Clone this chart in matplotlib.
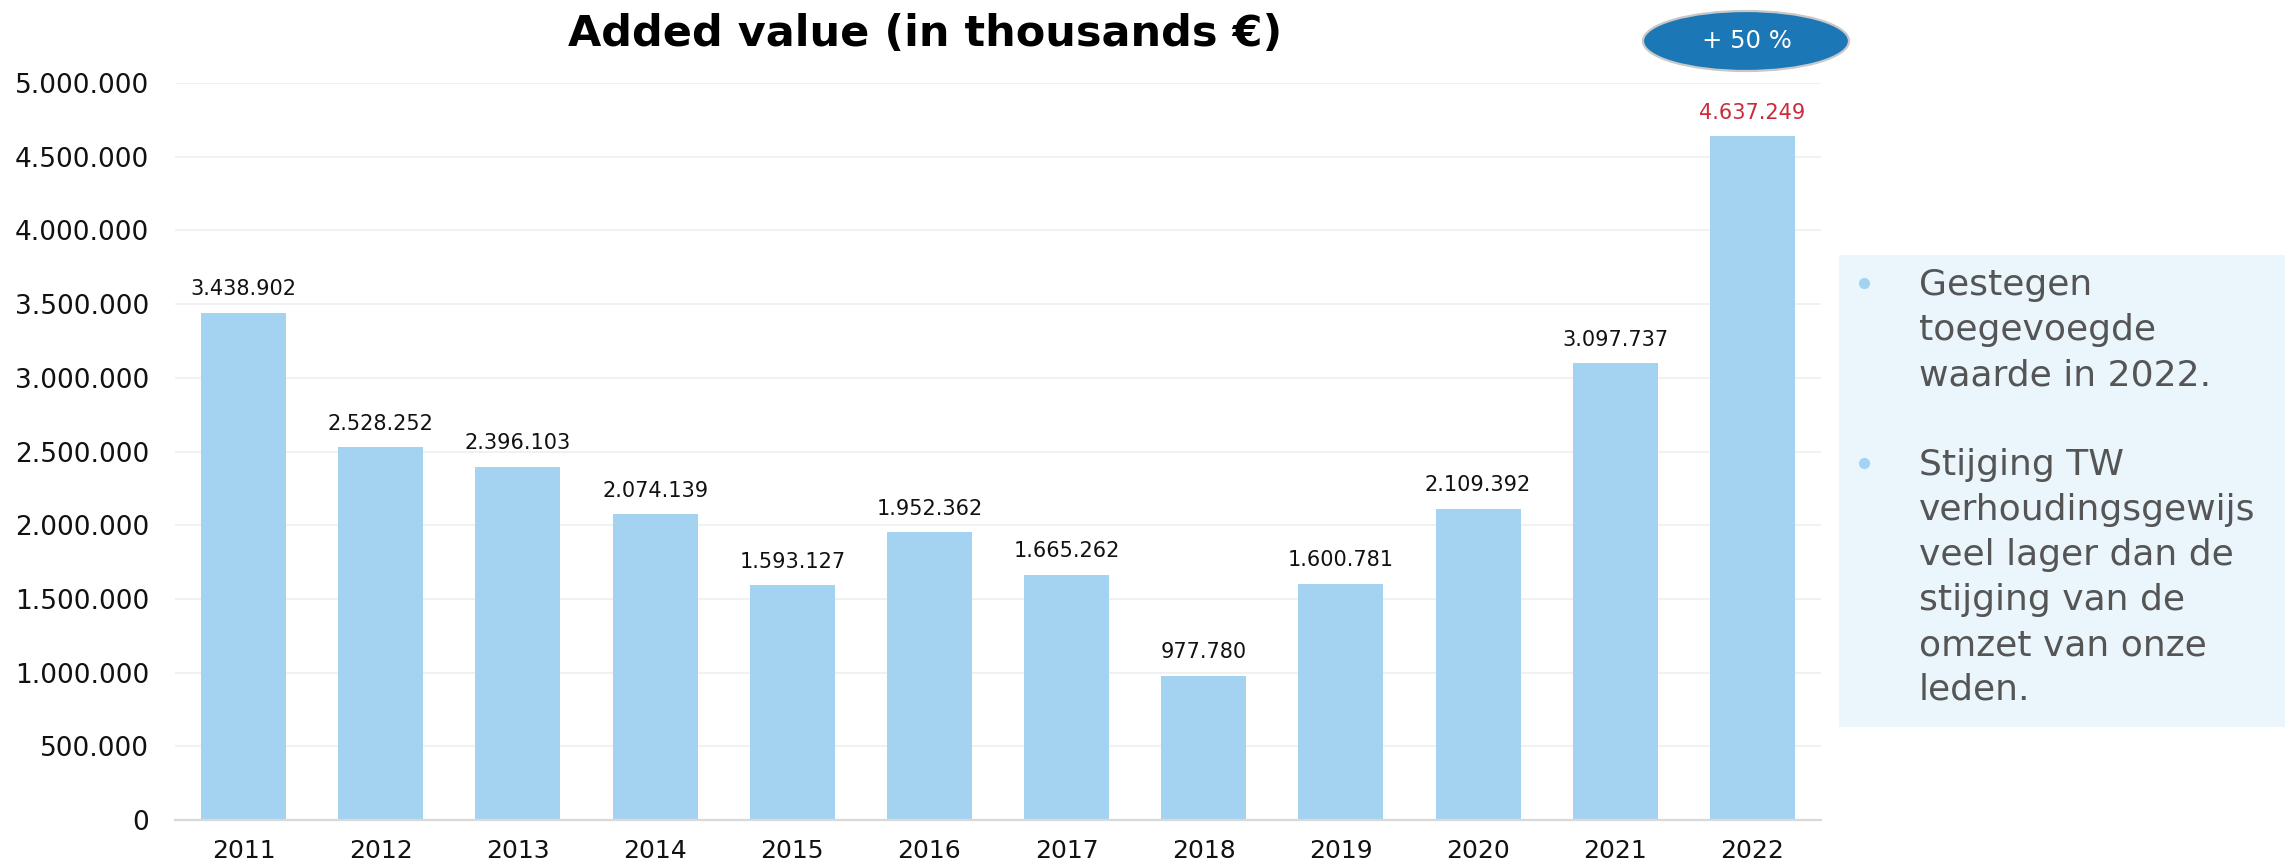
import matplotlib
matplotlib.use("Agg")
import matplotlib.pyplot as plt
from matplotlib.patches import Ellipse, Rectangle
from matplotlib.lines import Line2D
from matplotlib.ticker import FuncFormatter

# ---- data ----
years = ["2011", "2012", "2013", "2014", "2015", "2016",
         "2017", "2018", "2019", "2020", "2021", "2022"]
values = [3438902, 2528252, 2396103, 2074139, 1593127, 1952362,
          1665262, 977780, 1600781, 2109392, 3097737, 4637249]
yticks = [0, 500000, 1000000, 1500000, 2000000, 2500000,
          3000000, 3500000, 4000000, 4500000, 5000000]
title = "Added value (in thousands €)"
badge_text = "+ 50 %"
bullet1 = ["Gestegen", "toegevoegde", "waarde in 2022."]
bullet2 = ["Stijging TW", "verhoudingsgewijs", "veel lager dan de",
           "stijging van de", "omzet van onze", "leden."]

W, H = 2293, 865


def fx(px):
    return px / W


def fy(py):
    return 1 - py / H


def fmt(v):
    return f"{int(v):,}".replace(",", ".")


plt.rcParams['font.family'] = ['DejaVu Sans']
fig = plt.figure(figsize=(W / 100, H / 100), dpi=100)
ax = fig.add_axes([fx(175), fy(820), fx(1821) - fx(175), fy(83) - fy(820)])

bar_color = "#A4D3F2"
x = list(range(len(years)))
ax.bar(x, values, width=0.62, color=bar_color, zorder=2)

ax.set_xlim(-0.5, len(years) - 0.5)
ax.set_ylim(0, 5000000)
ax.set_yticks(yticks)
ax.yaxis.set_major_formatter(FuncFormatter(lambda v, p: fmt(v)))
ax.set_xticks(x)
ax.set_xticklabels(years)
ax.tick_params(axis='y', length=0, pad=18.5, labelsize=19, labelcolor="#111111")
ax.tick_params(axis='x', length=0, pad=14, labelsize=18, labelcolor="#111111")
ax.grid(axis='y', color="#F0F0F0", linewidth=1.3, zorder=0)
ax.set_axisbelow(True)
for s in ["top", "right", "left"]:
    ax.spines[s].set_visible(False)
ax.spines["bottom"].set_color("#D9D9D9")
ax.spines["bottom"].set_linewidth(1.6)

# value labels
for i, v in enumerate(values):
    col = "#CC2A3A" if i == len(values) - 1 else "#111111"
    ax.annotate(fmt(v), (i, v), xytext=(0, 17), textcoords="offset points",
                ha="center", va="center", fontsize=15, color=col,
                annotation_clip=False)

# title
fig.text(fx(925), fy(34), title, ha="center", va="center",
         fontsize=31, fontweight="bold", color="black")

# badge ellipse
ell = Ellipse((fx(1746), fy(41)), width=206 / W, height=60 / H,
              transform=fig.transFigure, facecolor="#1B77B5",
              edgecolor="#C8C8C8", linewidth=1.6)
fig.add_artist(ell)
fig.text(fx(1747), fy(41), badge_text, ha="center", va="center",
         fontsize=17.5, color="white")

# side text box
box = Rectangle((fx(1839), fy(727)), (2285 - 1839) / W, (727 - 255) / H,
                transform=fig.transFigure, facecolor="#EAF5FC",
                edgecolor="none")
fig.add_artist(box)

line_h = 45
base0 = 295
for k, line in enumerate(bullet1):
    fig.text(fx(1919), fy(base0 + k * line_h), line, ha="left",
             va="baseline", fontsize=26, color="#555555")
for k, line in enumerate(bullet2):
    fig.text(fx(1919), fy(base0 + (k + 4) * line_h), line, ha="left",
             va="baseline", fontsize=26, color="#555555")
for by in [283, 463]:
    fig.add_artist(Line2D([fx(1864)], [fy(by)], marker="o", markersize=7,
                          color="#A4D3F2", transform=fig.transFigure))

fig.savefig("out.png", dpi=100)
